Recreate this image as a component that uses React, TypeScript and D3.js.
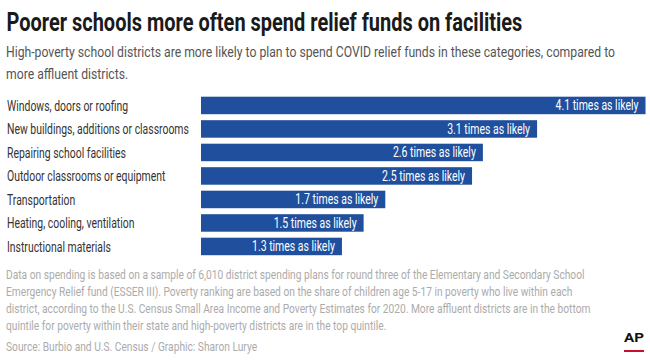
import * as d3 from "d3";
import { useEffect, useRef } from "react";

const categories = [
  "Windows, doors or roofing",
  "New buildings, additions or classrooms",
  "Repairing school facilities",
  "Outdoor classrooms or equipment",
  "Transportation",
  "Heating, cooling, ventilation",
  "Instructional materials",
];
const ratios = [4.1, 3.1, 2.6, 2.5, 1.7, 1.5, 1.3];

const title = "Poorer schools more often spend relief funds on facilities";
const subtitleLines = [
  "High-poverty school districts are more likely to plan to spend COVID relief funds in these categories, compared to",
  "more affluent districts.",
];
const noteLines = [
  "Data on spending is based on a sample of 6,010 district spending plans for round three of the Elementary and Secondary School",
  "Emergency Relief fund (ESSER III). Poverty ranking are based on the share of children age 5-17 in poverty who live within each",
  "district, according to the U.S. Census Small Area Income and Poverty Estimates for 2020. More affluent districts are in the bottom",
  "quintile for poverty within their state and high-poverty districts are in the top quintile.",
];
const source = "Source: Burbio and U.S. Census / Graphic: Sharon Lurye";

const FONT = "Roboto, 'Open Sans', sans-serif";

export default function App() {
  const svgRef = useRef<SVGSVGElement | null>(null);

  useEffect(() => {
    if (!svgRef.current) return;
    const svg = d3.select(svgRef.current);
    svg.selectAll("*").remove();

    const width = 650;
    const height = 362;
    svg.attr("width", width).attr("height", height);
    svg.append("rect").attr("width", width).attr("height", height).attr("fill", "#fff");

    // squeeze a group of texts so the reference line hits its measured width (condensed look)
    const squeeze = (sel: d3.Selection<SVGTextElement, any, any, any>, refNode: SVGTextElement, target: number) => {
      const k = target / refNode.getComputedTextLength();
      sel.each(function () {
        const t = d3.select(this);
        t.attr("transform", `${t.attr("transform")} scale(${k},1)`);
      });
    };

    // Title
    const titleText = svg
      .append("text")
      .attr("transform", "translate(6.5,31)")
      .attr("font-family", FONT)
      .attr("font-weight", 700)
      .attr("font-size", 25)
      .attr("fill", "#1a1a1a")
      .text(title);
    squeeze(titleText, titleText.node()!, 516);

    // Subtitle
    const sub = svg
      .selectAll(".sub")
      .data(subtitleLines)
      .join("text")
      .attr("class", "sub")
      .attr("transform", (d, i) => `translate(6,${57 + i * 21.5})`)
      .attr("font-family", FONT)
      .attr("font-size", 15)
      .attr("fill", "#555")
      .text((d) => d);
    squeeze(sub, sub.nodes()[0], 610);

    // Scales
    const x = d3.scaleLinear().domain([0, 4.1]).range([201, 645.5]);
    const y = d3
      .scaleBand<string>()
      .domain(categories)
      .range([93.7, 93.7 + categories.length * 23.5])
      .paddingInner(0.255)
      .paddingOuter(0.1275);

    const rows = categories.map((c, i) => ({ c, v: ratios[i] }));

    // Bars
    svg
      .selectAll(".bar")
      .data(rows)
      .join("rect")
      .attr("class", "bar")
      .attr("x", x(0))
      .attr("y", (d) => y(d.c)!)
      .attr("width", (d) => x(d.v) - x(0))
      .attr("height", y.bandwidth())
      .attr("fill", "#1f4f9d");

    // Category labels
    const labels = svg
      .selectAll(".cat")
      .data(rows)
      .join("text")
      .attr("class", "cat")
      .attr("transform", (d) => `translate(7,${y(d.c)! + y.bandwidth() / 2 + 5.3})`)
      .attr("font-family", FONT)
      .attr("font-size", 15)
      .attr("fill", "#333")
      .text((d) => d.c);
    squeeze(labels, labels.nodes()[1], 182);

    // Value labels inside bars
    const vals = svg
      .selectAll(".val")
      .data(rows)
      .join("text")
      .attr("class", "val")
      .attr("transform", (d) => `translate(${x(d.v) - 7},${y(d.c)! + y.bandwidth() / 2 + 5})`)
      .attr("text-anchor", "end")
      .attr("font-family", FONT)
      .attr("font-size", 14)
      .attr("fill", "#fff")
      .text((d) => `${d.v} times as likely`);
    squeeze(vals, vals.nodes()[0], 83);

    // Footnote + source
    const notes = svg
      .selectAll(".note")
      .data([...noteLines, source])
      .join("text")
      .attr("class", "note")
      .attr("transform", (d, i) => `translate(6,${i < noteLines.length ? 278.5 + i * 17 : 350.5})`)
      .attr("font-family", FONT)
      .attr("font-size", 12.5)
      .attr("fill", "#ababab")
      .text((d) => d);
    squeeze(notes, notes.nodes()[0], 579);

    // AP logo
    const ap = svg
      .append("text")
      .attr("transform", "translate(634,342)")
      .attr("text-anchor", "middle")
      .attr("font-family", FONT)
      .attr("font-weight", 700)
      .attr("font-size", 12.5)
      .attr("fill", "#111")
      .text("AP");
    squeeze(ap, ap.node()!, 20);
    svg
      .append("rect")
      .attr("x", 624)
      .attr("y", 350)
      .attr("width", 20)
      .attr("height", 2)
      .attr("fill", "#c8102e");
  }, []);

  return <svg ref={svgRef} style={{ position: "absolute", left: 0, top: 0, display: "block" }}></svg>;
}
